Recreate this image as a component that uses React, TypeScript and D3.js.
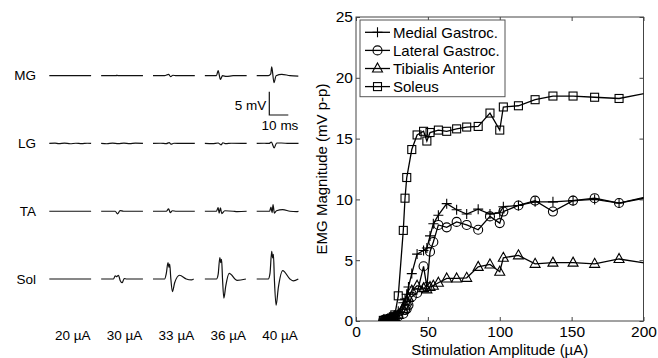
import React, { useEffect, useRef } from 'react';
import * as d3 from 'd3';

// Stimulation amplitudes (µA), shared by every muscle
const stimulus = [19, 20, 21, 22, 23, 24, 25, 26, 27, 29.4, 32.9, 34.1, 35.3, 36.5, 38.8, 42.5, 47, 49.3, 51.5, 53.8, 57.3, 63.1, 70, 77, 85, 93.2, 100, 102.5, 113, 124.6, 137, 151, 166, 183, 205];

// EMG magnitude (mV p-p); null = not recorded for that muscle
const medialGastroc = [0.05, 0.05, 0.1, 0.1, 0.15, 0.2, 0.3, 0.35, 0.5, 0.8, 1.5, 1.8, 2.2, 2.8, 3.9, 5.5, 5.8, 6.0, 7.0, 8.0, 8.7, 9.65, 9.15, 8.8, 9.2, 8.8, 8.9, 9.4, 9.5, 9.8, 9.8, 9.9, 10.0, 9.7, 10.2];
const lateralGastroc = [0.05, 0.05, 0.05, 0.1, 0.1, 0.15, 0.2, 0.25, 0.3, 0.4, 0.6, 0.9, 1.0, 1.3, 2.0, 2.3, 4.5, 2.8, 5.7, 6.5, 7.9, 7.7, 8.15, 7.9, 7.5, 8.6, 8.05, 9.0, 9.5, 9.9, 9.0, 9.9, 10.1, 9.7, 10.3];
const tibialisAnterior = [0.05, 0.05, 0.05, 0.1, 0.1, 0.15, 0.2, 0.25, 0.3, 0.5, 1.0, 1.3, 1.6, 1.9, 2.5, 2.9, 2.7, 2.6, 2.8, 2.9, 3.15, 3.5, 3.5, 3.55, 4.45, 4.65, 4.05, 5.2, 5.4, 4.7, 4.8, 4.8, 4.7, 5.1, 4.7];
const soleus = [0.05, 0.05, 0.1, 0.1, 0.15, 0.2, 0.25, 0.35, 0.5, 2.07, 7.45, 10.1, 11.8, null, 14.1, 15.3, 15.6, 14.8, 15.5, null, 15.7, 15.6, 15.8, 15.95, 16.0, 17.1, 15.7, 17.6, 17.7, 18.2, 18.5, 18.5, 18.4, 18.3, 18.8];

const seriesNames = ['Medial Gastroc.', 'Lateral Gastroc.', 'Tibialis Anterior', 'Soleus'];
const seriesMarkers = ['plus', 'circle', 'triangle', 'square'];
const seriesValues = [medialGastroc, lateralGastroc, tibialisAnterior, soleus];

const xTicks = [0, 50, 100, 150, 200];
const yTicks = [0, 5, 10, 15, 20, 25];

// Example EMG traces: rows = muscles, columns = stimulus amplitude
const traceRows = ['MG', 'LG', 'TA', 'Sol'];
const traceColumns = ['20 µA', '30 µA', '33 µA', '36 µA', '40 µA'];

// keypoints [time ms, mV] for each row, per column
const mgTraces: number[][][] = [
  [[0, 0], [22, 0]],
  [[0, 0], [8, 0], [8.3, 0.12], [8.7, 0], [22, 0]],
  [[0, 0], [6.1, 0], [8.2, 0.3], [9.3, -0.2], [10.5, 0.1], [12.3, 0], [22, 0]],
  [[0, 0], [6.1, 0], [7.0, 1.07], [8.2, -0.8], [9.3, 0], [11.4, -0.15], [14.9, 0], [22, 0]],
  [[0, 0], [6.1, 0], [7.4, 0.4], [7.9, 1.9], [9.1, -1.5], [10.2, 0], [13.2, 0.3], [17.5, 0], [21.9, -0.1]],
];
const lgTraces: number[][][] = [
  [[0, 0], [3, 0.08], [5, -0.05], [8, 0.06], [11, -0.06], [14, 0.05], [17, -0.04], [20, 0.05], [22, 0]],
  [[0, 0], [3, -0.06], [6, 0.06], [9, -0.05], [12, 0.08], [15, -0.05], [18, 0.06], [22, 0]],
  [[0, 0], [4, 0.05], [7, -0.05], [8.5, 0.2], [9.5, -0.15], [11, 0.05], [15, 0], [22, 0]],
  [[0, 0], [4, -0.05], [7, 0.1], [8.5, -0.3], [9.5, 0.15], [11, -0.05], [14, 0.05], [22, 0]],
  [[0, 0], [4, 0.05], [6.5, 0], [7.7, 0.3], [9.2, -0.93], [10.5, 0.1], [13, 0.1], [17, 0], [22, 0]],
];
const taTraces: number[][][] = [
  [[0, 0], [22, 0]],
  [[0, 0], [7.4, 0], [8.6, -0.55], [10, 0.15], [11.8, 0], [22, 0]],
  [[0, 0], [7.0, 0], [8.2, 0.5], [9.1, -0.3], [10.2, 0.1], [12.3, 0], [22, 0]],
  [[0, 0], [6.1, 0], [7.0, 0.8], [7.5, -0.4], [8.2, 0.7], [8.9, -0.5], [10.5, 0.1], [14.9, 0], [17, -0.1], [22, 0]],
  [[0, 0], [6.8, 0], [7.5, 0.9], [8.1, -0.3], [8.6, 1.4], [9.3, -0.4], [10.4, 0.1], [13.7, 0.35], [17.5, 0], [21, -0.1], [22, 0]],
];
const solTraces: number[][][] = [
  [[0, 0], [22, 0]],
  [[0, 0], [6.5, 0], [7.4, 0.7], [8.2, 0.5], [9.1, 0.8], [10, -0.3], [11.1, -0.8], [12.1, 0.1], [13.5, 0], [22, 0]],
  [[0, 0], [6.1, 0], [7.0, 1.2], [7.9, 3.5], [8.4, 2.5], [8.8, 3.2], [9.3, 0.5], [10.2, -2.7], [11.4, -0.8], [14, 0.8], [17.5, 0], [20.2, -0.2], [21.4, 0]],
  [[0, 0], [6.1, 0], [7.0, 1.0], [7.9, 4.6], [8.4, 3.5], [8.8, 4.2], [9.3, 0], [10, -4.1], [11, -1.5], [12.8, 1.2], [17, -0.3], [21.6, 0]],
  [[0, 0], [6.1, 0], [7.0, 1.2], [7.9, 5.9], [8.4, 4.5], [8.8, 5.3], [9.3, 0], [10.2, -5.6], [11.4, -1.8], [13.7, 1.8], [17.5, 0], [19.3, -0.4], [21.9, 0]],
];
const traces = [mgTraces, lgTraces, taTraces, solTraces];

const FONT = 'Liberation Sans, Arial, sans-serif';

function drawMarker(g: any, kind: string, cx: number, cy: number) {
  if (kind === 'plus') {
    g.append('path').attr('d', `M${cx - 5},${cy}H${cx + 5}M${cx},${cy - 5}V${cy + 5}`);
  } else if (kind === 'circle') {
    g.append('circle').attr('cx', cx).attr('cy', cy).attr('r', 4.5);
  } else if (kind === 'triangle') {
    g.append('path').attr('d', `M${cx},${cy - 5.5}L${cx + 5},${cy + 3.5}L${cx - 5},${cy + 3.5}Z`);
  } else {
    g.append('rect').attr('x', cx - 4).attr('y', cy - 4).attr('width', 8).attr('height', 8);
  }
}

export default function App() {
  const svgRef = useRef<SVGSVGElement>(null);

  useEffect(() => {
    if (!svgRef.current) return;
    const svg = d3.select(svgRef.current);
    svg.selectAll('*').remove();

    // ---------- left panel: traces ----------
    const rowY = d3.scalePoint().domain(traceRows).range([75.7, 279]);
    const colX = d3.scaleLinear().domain([0, traceColumns.length - 1]).range([49.3, 256.7]);
    const msPx = 1.9;
    const mvPx = 4.67;

    const left = svg.append('g');
    traceRows.forEach((row, r) => {
      const y0 = rowY(row) as number;
      left.append('text')
        .attr('x', 36).attr('y', y0).attr('dy', '0.35em')
        .attr('text-anchor', 'end')
        .attr('font-family', FONT).attr('font-size', 13.5)
        .text(row);
      traceColumns.forEach((_, c) => {
        const x0 = colX(c);
        const t = d3.scaleLinear().domain([0, 22]).range([x0, x0 + 22 * msPx]);
        const v = d3.scaleLinear().domain([0, 1]).range([y0, y0 - mvPx]);
        const line = d3.line<number[]>().x(d => t(d[0])).y(d => v(d[1])).curve(d3.curveMonotoneX);
        left.append('path')
          .attr('d', line(traces[r][c]) || '')
          .attr('fill', 'none')
          .attr('stroke', '#111')
          .attr('stroke-width', 1.2);
      });
    });
    traceColumns.forEach((lab, c) => {
      left.append('text')
        .attr('x', colX(c) + 11 * msPx + 2.5).attr('y', 335).attr('dy', '0.35em')
        .attr('text-anchor', 'middle')
        .attr('font-family', FONT).attr('font-size', 13.5)
        .text(lab);
    });

    // scale bar 5 mV / 10 ms
    const sbX = 269.3, sbY = 115;
    left.append('path')
      .attr('d', `M${sbX},${sbY - 5 * mvPx}V${sbY}H${sbX + 10 * msPx}`)
      .attr('fill', 'none').attr('stroke', '#111').attr('stroke-width', 1.2);
    left.append('text')
      .attr('x', sbX - 3).attr('y', 105).attr('dy', '0.35em')
      .attr('text-anchor', 'end').attr('font-family', FONT).attr('font-size', 13.5)
      .text('5 mV');
    left.append('text')
      .attr('x', 280).attr('y', 125.5).attr('dy', '0.35em')
      .attr('text-anchor', 'middle').attr('font-family', FONT).attr('font-size', 13.5)
      .text('10 ms');

    // ---------- right panel: recruitment curves ----------
    const pl = 356, pr = 643.5, pt = 17, pb = 321;
    const x = d3.scaleLinear().domain([0, 200]).range([pl, pr]);
    const y = d3.scaleLinear().domain([0, 25]).range([pb, pt]);

    const axisStyle = (sel: any) => {
      sel.select('.domain').remove();
      sel.selectAll('line').attr('stroke', '#444');
      sel.selectAll('text').attr('font-family', FONT).attr('font-size', 15.5).attr('fill', '#000');
    };

    svg.append('g').attr('transform', `translate(0,${pb})`)
      .call(d3.axisBottom(x).tickValues(xTicks).tickSize(-4).tickPadding(5))
      .call(axisStyle);
    svg.append('g').attr('transform', `translate(0,${pt})`)
      .call(d3.axisTop(x).tickValues(xTicks).tickSize(-4).tickFormat(() => ''))
      .call(axisStyle);
    svg.append('g').attr('transform', `translate(${pl},0)`)
      .call(d3.axisLeft(y).tickValues(yTicks).tickSize(-4).tickPadding(3))
      .call(axisStyle);
    svg.append('g').attr('transform', `translate(${pr},0)`)
      .call(d3.axisRight(y).tickValues(yTicks).tickSize(-4).tickFormat(() => ''))
      .call(axisStyle);

    svg.append('rect')
      .attr('x', pl).attr('y', pt).attr('width', pr - pl).attr('height', pb - pt)
      .attr('fill', 'none').attr('stroke', '#444').attr('stroke-width', 1);

    svg.append('defs').append('clipPath').attr('id', 'plot-clip')
      .append('rect').attr('x', pl).attr('y', pt).attr('width', pr - pl).attr('height', pb - pt);

    const plot = svg.append('g').attr('clip-path', 'url(#plot-clip)');
    const line = d3.line<[number, number]>().x(d => x(d[0])).y(d => y(d[1]));

    seriesValues.forEach((vals, i) => {
      const pts = stimulus
        .map((s, k) => [s, vals[k]] as [number, number | null])
        .filter(d => d[1] !== null) as [number, number][];
      plot.append('path')
        .attr('d', line(pts) || '')
        .attr('fill', 'none').attr('stroke', '#000').attr('stroke-width', 1.3);
      const mg = plot.append('g')
        .attr('fill', 'none').attr('stroke', '#000').attr('stroke-width', 1.1);
      pts.forEach(p => drawMarker(mg, seriesMarkers[i], x(p[0]), y(p[1])));
    });

    // axis titles
    svg.append('text')
      .attr('x', (pl + pr) / 2).attr('y', 350).attr('dy', '0.35em')
      .attr('text-anchor', 'middle').attr('font-family', FONT).attr('font-size', 15)
      .text('Stimulation Amplitude (µA)');
    svg.append('text')
      .attr('transform', `translate(327,${(pt + pb) / 2}) rotate(-90)`)
      .attr('text-anchor', 'middle').attr('font-family', FONT).attr('font-size', 15)
      .text('EMG Magnitude (mV p-p)');

    // legend
    const lg = svg.append('g');
    lg.append('rect')
      .attr('x', 360).attr('y', 20).attr('width', 145).attr('height', 76.7)
      .attr('fill', '#fff').attr('stroke', '#555').attr('stroke-width', 1);
    seriesNames.forEach((name, i) => {
      const cy = 32.3 + i * 18.1;
      lg.append('line')
        .attr('x1', 365).attr('x2', 390).attr('y1', cy).attr('y2', cy)
        .attr('stroke', '#000').attr('stroke-width', 1.3);
      const mk = lg.append('g').attr('fill', 'none').attr('stroke', '#000').attr('stroke-width', 1.1);
      drawMarker(mk, seriesMarkers[i], 377.5, cy);
      lg.append('text')
        .attr('x', 393).attr('y', cy).attr('dy', '0.35em')
        .attr('font-family', FONT).attr('font-size', 15)
        .text(name);
    });
  }, []);

  return (
    <div style={{ position: 'fixed', left: 0, top: 0, background: '#fff' }}>
      <svg ref={svgRef} width={658} height={358} style={{ display: 'block' }} />
    </div>
  );
}
